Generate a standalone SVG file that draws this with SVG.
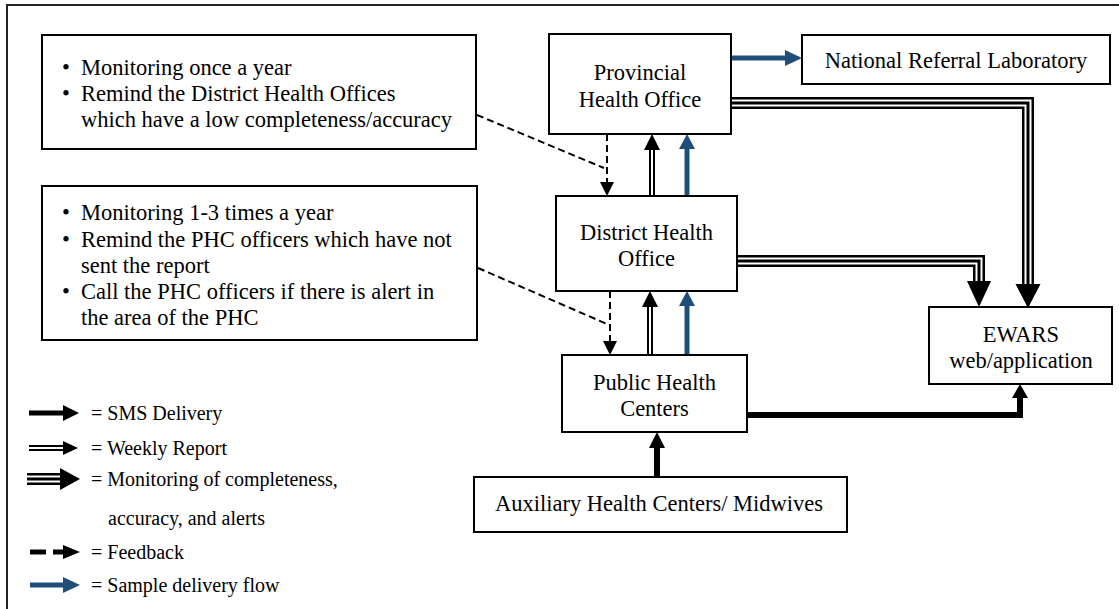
<svg xmlns="http://www.w3.org/2000/svg" width="1119" height="609" viewBox="0 0 1119 609">
<style>
text { font-family: "Liberation Serif", "Times New Roman", serif; fill:#000; }
.n { font-size:22.5px; text-anchor:middle; }
.note { font-size:22.5px; }
.lg { font-size:20px; }
.box { fill:#fff; stroke:#000; stroke-width:2; }
.frame { fill:none; stroke:#222; stroke-width:2; }
.ln { fill:none; stroke-linejoin:miter; stroke-linecap:butt; }
.t1 { stroke:#000; stroke-width:12; }
.t2 { stroke:#fff; stroke-width:7; }
.t3 { stroke:#000; stroke-width:3; }
.d1 { stroke:#000; stroke-width:6; }
.d2 { stroke:#fff; stroke-width:2; }
.sms { stroke:#000; stroke-width:6; }
.blue { stroke:#1F4E79; stroke-width:5; }
.dash { stroke:#000; stroke-width:2; stroke-dasharray:7 4; }
.hk { fill:#000; }
.hb { fill:#1F4E79; }
</style>
<defs>
<path id="pTri1" d="M731,103 H1028 V286"/>
<path id="pTri2" d="M737,261 H979 V282"/>
<path id="pDbl1" d="M652,196 V149"/>
<path id="pDbl2" d="M650,355 V306"/>
<path id="lgDbl" d="M29,448 H64"/>
<path id="lgTri" d="M27,479 H61"/>
</defs>
<rect class="frame" x="7" y="5" width="1140" height="640"/>

<g id="connectors">
  <line class="ln dash" x1="477" y1="115" x2="604" y2="168"/>
  <line class="ln dash" x1="607" y1="134" x2="607" y2="184"/>
  <polygon class="hk" points="600,182 614,182 607,196"/>
  <line class="ln dash" x1="478" y1="268" x2="607" y2="324"/>
  <line class="ln dash" x1="610" y1="291" x2="610" y2="343"/>
  <polygon class="hk" points="603,341 617,341 610,355"/>
  <use href="#pDbl1" class="ln d1"/><use href="#pDbl1" class="ln d2"/>
  <polygon class="hk" points="644,150 660,150 652,134"/>
  <line class="ln blue" x1="687" y1="196" x2="687" y2="148"/>
  <polygon class="hb" points="679,149 695,149 687,134"/>
  <use href="#pDbl2" class="ln d1"/><use href="#pDbl2" class="ln d2"/>
  <polygon class="hk" points="642,307 658,307 650,291"/>
  <line class="ln blue" x1="687" y1="355" x2="687" y2="305"/>
  <polygon class="hb" points="679,306 695,306 687,291"/>
  <line class="ln blue" x1="731" y1="58" x2="786" y2="58"/>
  <polygon class="hb" points="785,50 802,58 785,66"/>
  <use href="#pTri1" class="ln t1"/><use href="#pTri1" class="ln t2"/><use href="#pTri1" class="ln t3"/>
  <polygon class="hk" points="1015.5,284 1040.5,284 1028,308"/>
  <use href="#pTri2" class="ln t1"/><use href="#pTri2" class="ln t2"/><use href="#pTri2" class="ln t3"/>
  <polygon class="hk" points="967,281 991,281 979,307"/>
  <path class="ln sms" d="M747,415 H1020 V397"/>
  <polygon class="hk" points="1012,398 1028,398 1020,384"/>
  <line class="ln sms" x1="657" y1="477" x2="657" y2="447"/>
  <polygon class="hk" points="649,448 665,448 657,432"/>
</g>

<g id="note1">
  <rect class="box" x="42" y="35" width="434" height="114"/>
  <text class="note" x="62" y="75">•</text><text class="note" x="81" y="75">Monitoring once a year</text>
  <text class="note" x="62" y="101">•</text><text class="note" x="81" y="101">Remind the District Health Offices</text>
  <text class="note" x="81" y="127">which have a low completeness/accuracy</text>
</g>
<g id="note2">
  <rect class="box" x="42" y="186" width="435" height="154"/>
  <text class="note" x="62" y="220">•</text><text class="note" x="81" y="220">Monitoring 1-3 times a year</text>
  <text class="note" x="62" y="247">•</text><text class="note" x="81" y="247">Remind the PHC officers which have not</text>
  <text class="note" x="81" y="273">sent the report</text>
  <text class="note" x="62" y="299">•</text><text class="note" x="81" y="299">Call the PHC officers if there is alert in</text>
  <text class="note" x="81" y="325">the area of the PHC</text>
</g>
<g id="pho">
  <rect class="box" x="549" y="34" width="182" height="100"/>
  <text class="n" x="640" y="80">Provincial</text>
  <text class="n" x="640" y="107">Health Office</text>
</g>
<g id="nrl">
  <rect class="box" x="802" y="35" width="308" height="49"/>
  <text class="n" x="956" y="68">National Referral Laboratory</text>
</g>
<g id="dho">
  <rect class="box" x="556" y="196" width="181" height="95"/>
  <text class="n" x="646.5" y="240">District Health</text>
  <text class="n" x="646.5" y="266">Office</text>
</g>
<g id="phc">
  <rect class="box" x="562" y="355" width="185" height="77"/>
  <text class="n" x="654.5" y="390">Public Health</text>
  <text class="n" x="654.5" y="416">Centers</text>
</g>
<g id="ewars">
  <rect class="box" x="929" y="307" width="183" height="77"/>
  <text class="n" x="1021" y="342">EWARS</text>
  <text class="n" x="1021" y="368">web/application</text>
</g>
<g id="aux">
  <rect class="box" x="474" y="477" width="373" height="55"/>
  <text class="n" x="659" y="511">Auxiliary Health Centers/ Midwives</text>
</g>

<g id="legend">
  <line class="ln sms" x1="29" y1="413" x2="64" y2="413" style="stroke-width:5"/>
  <polygon class="hk" points="63,405 79,413 63,421"/>
  <text class="lg" x="91" y="420">= SMS Delivery</text>
  <use href="#lgDbl" class="ln d1"/><use href="#lgDbl" class="ln d2"/>
  <polygon class="hk" points="63,441 78,448 63,455"/>
  <text class="lg" x="91" y="455">= Weekly Report</text>
  <use href="#lgTri" class="ln t1"/><use href="#lgTri" class="ln t2"/><use href="#lgTri" class="ln t3"/>
  <polygon class="hk" points="60,468 80,479 60,490"/>
  <text class="lg" x="91" y="486">= Monitoring of completeness,</text>
  <text class="lg" x="108" y="525">accuracy, and alerts</text>
  <line class="ln sms" x1="30" y1="552" x2="46" y2="552" style="stroke-width:5"/>
  <line class="ln sms" x1="53" y1="552" x2="64" y2="552" style="stroke-width:5"/>
  <polygon class="hk" points="63,545 80,552 63,559"/>
  <text class="lg" x="91" y="559">= Feedback</text>
  <line class="ln blue" x1="30" y1="585" x2="64" y2="585"/>
  <polygon class="hb" points="63,577 80,585 63,593"/>
  <text class="lg" x="91" y="592">= Sample delivery flow</text>
</g>
</svg>
